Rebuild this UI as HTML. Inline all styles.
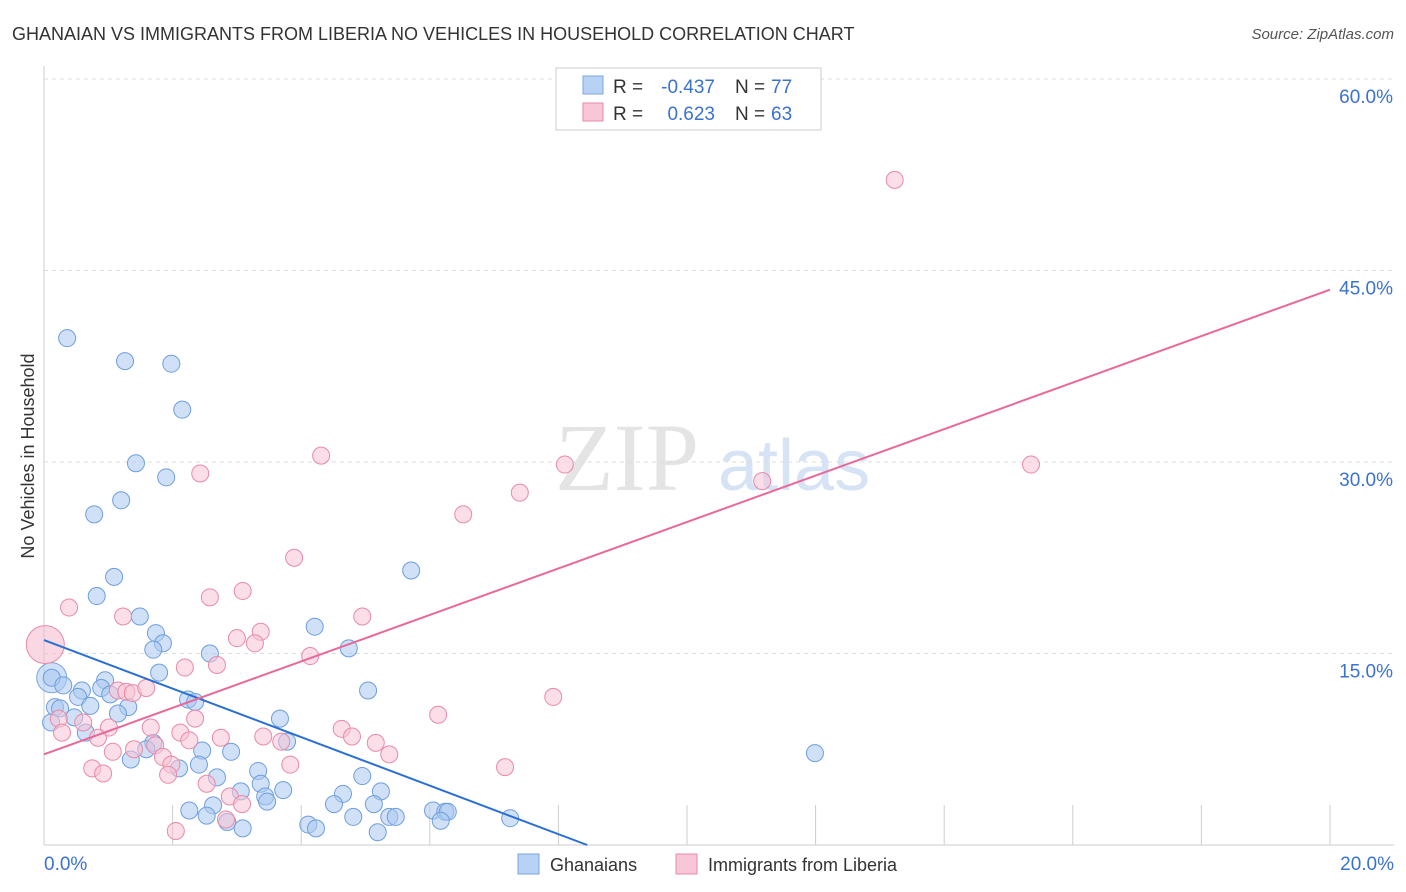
<!DOCTYPE html>
<html><head><meta charset="utf-8">
<style>
body{margin:0;background:#fff;font-family:"Liberation Sans",sans-serif;}
#wrap{position:relative;width:1406px;height:892px;overflow:hidden;}
</style></head>
<body>
<div id="wrap">
<svg id="chart" width="1406" height="892">
  <text x="12" y="40" font-size="18" fill="#333">GHANAIAN VS IMMIGRANTS FROM LIBERIA NO VEHICLES IN HOUSEHOLD CORRELATION CHART</text>
  <text x="1394" y="39" font-size="15" fill="#555" font-style="italic" text-anchor="end">Source: ZipAtlas.com</text>
  <text x="34" y="456" font-size="18" fill="#333" text-anchor="middle" transform="rotate(-90 34 456)">No Vehicles in Household</text>
  <text x="555" y="490" font-size="96" fill="#e4e4e4" font-family="Liberation Serif,serif">ZIP</text>
  <text x="718" y="490" font-size="72" fill="#d6e3f5">atlas</text>
  <g id="grid"></g>
  <g id="points"></g>
  <g id="lines"></g>
  <g>
    <rect x="556" y="68" width="265" height="62" fill="#fff" stroke="#ccc"/>
    <rect x="583" y="76" width="20" height="18" fill="#b8d2f5" stroke="#7aa6e0"/>
    <text x="613" y="93" font-size="19" fill="#333">R =</text>
    <text x="715" y="93" font-size="19" fill="#3a72d0" text-anchor="end">-0.437</text>
    <text x="735" y="93" font-size="19" fill="#333">N =</text>
    <text x="771" y="93" font-size="19" fill="#3a72d0">77</text>
    <rect x="583" y="103" width="20" height="18" fill="#f8c6d6" stroke="#e88aa8"/>
    <text x="613" y="120" font-size="19" fill="#333">R =</text>
    <text x="715" y="120" font-size="19" fill="#3a72d0" text-anchor="end">0.623</text>
    <text x="735" y="120" font-size="19" fill="#333">N =</text>
    <text x="771" y="120" font-size="19" fill="#3a72d0">63</text>
  </g>
  <g>
    <rect x="518" y="854" width="21" height="20" fill="#b8d2f5" stroke="#7aa6e0"/>
    <text x="550" y="871" font-size="18" fill="#333">Ghanaians</text>
    <rect x="676" y="854" width="21" height="20" fill="#f8c6d6" stroke="#e88aa8"/>
    <text x="708" y="871" font-size="18" fill="#333">Immigrants from Liberia</text>
  </g>
</svg>
</div>
<script>
const xTickLabels=["0.0%","20.0%"];
const yTicks=[15,30,45,60];
const blueX=[0.36,1.26,1.98,2.15,1.43,1.90,1.20,0.78,1.09,0.82,5.71,1.49,1.74,1.85,1.70,4.21,4.74,2.58,1.79,0.12,0.30,0.59,0.95,0.89,1.03,0.53,2.24,2.35,5.04,0.17,0.25,0.72,1.31,1.15,0.47,3.67,0.11,0.65,1.70,1.59,2.46,2.91,3.78,2.41,1.35,2.10,11.99,4.95,3.33,2.69,3.37,3.72,3.06,3.44,3.47,4.65,5.24,4.51,5.13,2.26,2.63,2.53,2.85,3.09,4.11,4.23,4.81,5.37,5.47,6.05,6.24,6.28,6.17,7.25,5.19];
const blueY=[39.7,37.9,37.7,34.1,29.9,28.8,27.0,25.9,21.0,19.5,21.5,17.9,16.6,15.8,15.3,17.1,15.4,15.0,13.5,13.1,12.5,12.1,12.9,12.3,11.8,11.6,11.4,11.2,12.1,10.8,10.7,10.9,10.8,10.3,10.0,9.9,9.6,8.8,8.0,7.5,7.4,7.3,8.1,6.3,6.7,6.0,7.2,5.4,5.8,5.3,4.8,4.3,4.2,3.8,3.4,4.0,4.2,3.2,3.2,2.7,3.1,2.3,1.8,1.3,1.6,1.3,2.2,2.2,2.2,2.7,2.6,2.6,1.9,2.1,1.0];
const pinkX=[13.23,4.31,8.10,15.35,11.17,7.40,2.43,6.52,3.89,0.39,3.09,2.58,4.95,1.23,3.37,3.00,3.28,4.14,2.19,2.69,1.15,1.28,1.38,1.59,7.92,6.13,2.35,0.23,0.61,1.01,1.66,2.12,3.41,4.63,2.75,4.79,0.28,0.84,2.26,1.73,1.40,5.16,5.37,3.69,1.07,1.85,3.83,0.75,1.98,7.17,0.92,1.93,2.53,2.89,3.08,2.83,2.05];
const pinkY=[52.1,30.5,29.8,29.8,28.5,27.6,29.1,25.9,22.5,18.6,19.9,19.4,17.9,17.9,16.7,16.2,15.8,14.8,13.9,14.1,12.1,12.0,11.9,12.3,11.6,10.2,9.9,9.9,9.6,9.2,9.2,8.8,8.5,9.1,8.4,8.5,8.8,8.4,8.2,7.8,7.5,8.0,7.1,8.1,7.3,6.9,6.3,6.0,6.3,6.1,5.6,5.5,4.8,3.8,3.2,2.0,1.1];
const bigBlue=[0.12,13.1], bigPink=[0.02,15.7];
const blueFit=[16.05,-1.90], pinkFit=[7.1,1.82];

const NS="http://www.w3.org/2000/svg";
const X0=44,X1=1330,Y0=845,Y60=79;
function sx(v){return X0+(v/20)*(X1-X0);}
function sy(v){return Y0-(v/60)*(Y0-Y60);}
function mk(t,a,p){const e=document.createElementNS(NS,t);for(const k in a)e.setAttribute(k,a[k]);p.appendChild(e);return e;}
const grid=document.getElementById('grid');
mk('line',{x1:X0,y1:66,x2:X0,y2:Y0,stroke:'#ccc'},grid);
mk('line',{x1:X0,y1:Y0,x2:1394,y2:Y0,stroke:'#ccc'},grid);
yTicks.forEach(t=>{
  const l=mk('line',{x1:X0,y1:sy(t),x2:1394,y2:sy(t),stroke:'#ddd','stroke-dasharray':'4,4'},grid);
  
  
  const tx=mk('text',{x:1393,y:sy(t)+24,'font-size':19,fill:'#3a72d0','text-anchor':'end'},grid);
  tx.textContent=t.toFixed(1)+'%';
  
  
});
for(let i=1;i<=10;i++){
  const l=mk('line',{x1:sx(i*2),y1:Y0-40,x2:sx(i*2),y2:Y0,stroke:'#ccc'},grid);
  
  
}
const xl0=mk('text',{x:44,y:870,'font-size':19,fill:'#3a72d0'},grid);xl0.textContent=xTickLabels[0];


const xl1=mk('text',{x:1394,y:870,'font-size':19,fill:'#3a72d0','text-anchor':'end'},grid);xl1.textContent=xTickLabels[1];



const pts=document.getElementById('points');
function dot(x,y,r,fill,stroke,name){
  const c=mk('circle',{cx:sx(x),cy:sy(y),r:r,fill:fill,'fill-opacity':0.55,stroke:stroke,'stroke-width':1},pts);
  
  
}
dot(bigBlue[0],bigBlue[1],15,'#a9c8f0','#7aa6e0','ghanaian-point');
dot(bigPink[0],bigPink[1],19,'#f5b8cc','#e88aa8','liberia-point');
blueX.forEach((x,i)=>dot(x,blueY[i],8.5,'#a9c8f0','#6e9ede','ghanaian-point'));
pinkX.forEach((x,i)=>dot(x,pinkY[i],8.5,'#f7c3d4','#e88aa8','liberia-point'));

const lines=document.getElementById('lines');
const bxEnd=-blueFit[0]/blueFit[1];
const bl=mk('line',{x1:sx(0),y1:sy(blueFit[0]),x2:sx(bxEnd),y2:sy(0),stroke:'#2a6fd4','stroke-width':2},lines);


const pl=mk('line',{x1:sx(0),y1:sy(pinkFit[0]),x2:sx(20),y2:sy(pinkFit[0]+20*pinkFit[1]),stroke:'#e8689a','stroke-width':2},lines);


</script>
</body></html>
